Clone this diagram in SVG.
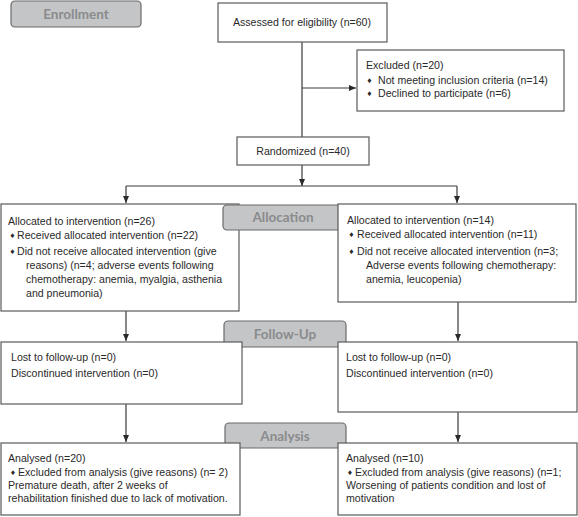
<svg xmlns="http://www.w3.org/2000/svg" width="578" height="517" viewBox="0 0 578 517">
<style>
.box{fill:#fff;stroke:#5a5a5a;stroke-width:1.2}
.lab{fill:#c4c5c7;stroke:#6a6a6a;stroke-width:1.2}
.lt{font-family:Lato,"Open Sans","Liberation Sans",sans-serif;font-weight:bold;font-size:13.5px;fill:#8a8b8d;text-anchor:middle}
.t{font-family:"Liberation Sans",Arial,sans-serif;font-size:10.6px;fill:#2a2a2a}
.b{font-family:"DejaVu Sans",sans-serif;font-size:6.5px;fill:#2a2a2a}
.c{text-anchor:middle}
.ln{fill:none;stroke:#3a3a3a;stroke-width:1.2}
</style>
<defs>
<marker id="ah" markerWidth="8" markerHeight="8" refX="7" refY="4" orient="auto" markerUnits="userSpaceOnUse">
<path d="M0,1 L7,4 L0,7 Z" fill="#2a2a2a"/>
</marker>
</defs>

<g id="connectors">
<line class="ln" x1="302" y1="42" x2="302" y2="137"/>
<line class="ln" x1="302" y1="88" x2="356" y2="88" marker-end="url(#ah)"/>
<line class="ln" x1="302" y1="165" x2="302" y2="186" marker-end="url(#ah)"/>
<line class="ln" x1="126" y1="186" x2="457" y2="186"/>
<line class="ln" x1="126" y1="186" x2="126" y2="203" marker-end="url(#ah)"/>
<line class="ln" x1="457" y1="186" x2="457" y2="203" marker-end="url(#ah)"/>
<line class="ln" x1="126" y1="311" x2="126" y2="341" marker-end="url(#ah)"/>
<line class="ln" x1="458" y1="302" x2="458" y2="341" marker-end="url(#ah)"/>
<line class="ln" x1="126" y1="404" x2="126" y2="442" marker-end="url(#ah)"/>
<line class="ln" x1="458" y1="412" x2="458" y2="442" marker-end="url(#ah)"/>
</g>

<g id="enrollment">
<rect class="lab" x="11" y="1" width="130" height="26" rx="4"/>
<text class="lt" x="76" y="19">Enrollment</text>
</g>

<g id="assessed">
<rect class="box" x="218" y="3" width="169" height="39"/>
<text class="t c" x="302" y="26">Assessed for eligibility (n=60)</text>
</g>

<g id="excluded">
<rect class="box" x="357" y="50" width="207" height="61"/>
<text class="t" x="366" y="69">Excluded  (n=20)</text>
<text class="b" x="366.5" y="83">♦</text>
<text class="t" x="378" y="84">Not meeting inclusion criteria (n=14)</text>
<text class="b" x="366.5" y="96">♦</text>
<text class="t" x="378" y="97">Declined to participate (n=6)</text>
</g>

<g id="randomized">
<rect class="box" x="237" y="137" width="132" height="28"/>
<text class="t c" x="303" y="155">Randomized (n=40)</text>
</g>

<g id="alloc-left">
<rect class="box" x="1" y="204" width="238" height="107"/>
<text class="t" x="8" y="225">Allocated to intervention (n=26)</text>
<text class="b" x="9.5" y="238">♦</text>
<text class="t" x="17" y="239">Received allocated intervention (n=22)</text>
<text class="b" x="9.5" y="254">♦</text>
<text class="t" x="17" y="255">Did not receive allocated intervention (give</text>
<text class="t" x="26" y="269">reasons) (n=4; adverse events following</text>
<text class="t" x="26" y="283">chemotherapy: anemia, myalgia, asthenia</text>
<text class="t" x="26" y="297">and pneumonia)</text>
</g>

<g id="allocation">
<rect class="lab" x="223" y="205" width="120" height="25" rx="4"/>
<text class="lt" x="283" y="222">Allocation</text>
</g>

<g id="alloc-right">
<rect class="box" x="338" y="204" width="238" height="98"/>
<text class="t" x="347" y="224">Allocated to intervention (n=14)</text>
<text class="b" x="348.5" y="237">♦</text>
<text class="t" x="357" y="238">Received allocated intervention (n=11)</text>
<text class="b" x="348.5" y="254">♦</text>
<text class="t" x="357" y="255">Did not receive allocated intervention (n=3;</text>
<text class="t" x="366" y="269">Adverse events following chemotherapy:</text>
<text class="t" x="366" y="283">anemia, leucopenia)</text>
</g>

<g id="followup">
<rect class="lab" x="224" y="321" width="122" height="26" rx="4"/>
<text class="lt" x="285" y="339">Follow-Up</text>
</g>

<g id="fu-left">
<rect class="box" x="1" y="342" width="241" height="62"/>
<text class="t" x="11" y="361">Lost to follow-up (n=0)</text>
<text class="t" x="11" y="377">Discontinued intervention (n=0)</text>
</g>

<g id="fu-right">
<rect class="box" x="338" y="342" width="239" height="70"/>
<text class="t" x="346" y="361">Lost to follow-up  (n=0)</text>
<text class="t" x="346" y="377">Discontinued intervention (n=0)</text>
</g>

<g id="analysis">
<rect class="lab" x="225" y="423" width="121" height="25" rx="4"/>
<text class="lt" x="285" y="441">Analysis</text>
</g>

<g id="an-left">
<rect class="box" x="1" y="443" width="239" height="72"/>
<text class="t" x="8" y="462">Analysed  (n=20)</text>
<text class="b" x="10" y="475">♦</text>
<text class="t" x="18" y="476">Excluded from analysis (give reasons) (n= 2)</text>
<text class="t" x="8" y="489">Premature death, after 2 weeks of</text>
<text class="t" x="8" y="502">rehabilitation finished due to lack of motivation.</text>
</g>

<g id="an-right">
<rect class="box" x="338" y="443" width="239" height="72"/>
<text class="t" x="346" y="462">Analysed  (n=10)</text>
<text class="b" x="347" y="475">♦</text>
<text class="t" x="355" y="476">Excluded from analysis (give reasons) (n=1;</text>
<text class="t" x="346" y="489">Worsening of patients condition and lost of</text>
<text class="t" x="346" y="502">motivation</text>
</g>
</svg>
